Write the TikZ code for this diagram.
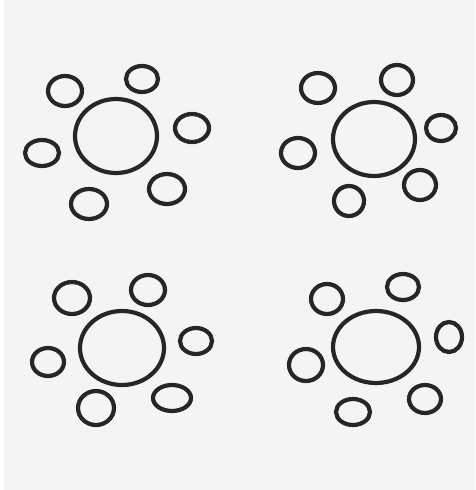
\documentclass[tikz,border=0pt]{standalone}
\definecolor{paper}{HTML}{F4F4F3}
\definecolor{ink}{HTML}{262626}
\tikzset{
  ring/.style={draw=ink, line width=4.2pt},
}
\newcommand{\blob}[4]{\draw[ring] (#1,#2) ellipse [x radius=#3, y radius=#4];}
\begin{document}
\begin{tikzpicture}[x=1pt,y=-1pt]
\fill[paper] (0,0) rectangle (475,490);
\fill[white] (0,0) rectangle (4,490);
\useasboundingbox (0,0) rectangle (475,490);
% group 1
\blob{116}{136}{41}{37}
\blob{65}{91}{17}{15}
\blob{142}{79}{16}{13}
\blob{192}{128}{17}{14}
\blob{167}{189}{18}{15}
\blob{89}{204}{18}{15}
\blob{42}{153}{17}{13}
% group 2
\blob{374}{139}{41}{37}
\blob{318}{88}{17}{15}
\blob{397}{80}{16}{15}
\blob{441}{128}{15}{13}
\blob{420}{185}{16}{15}
\blob{349}{201}{15}{15}
\blob{298}{153}{17}{15}
% group 3
\blob{122}{348}{42}{37}
\blob{72}{298}{18}{16}
\blob{148}{290}{17}{15}
\blob{196}{341}{16}{13}
\blob{172}{398}{19}{13}
\blob{96}{408}{18}{17}
\blob{48}{362}{16}{14}
% group 4
\blob{376}{347}{43}{36}
\blob{327}{299}{16}{15}
\blob{403}{287}{16}{13}
\blob{449}{337}{13}{15}
\blob{425}{399}{16}{14}
\blob{353}{412}{17}{13}
\blob{306}{365}{17}{16}
\end{tikzpicture}
\end{document}
